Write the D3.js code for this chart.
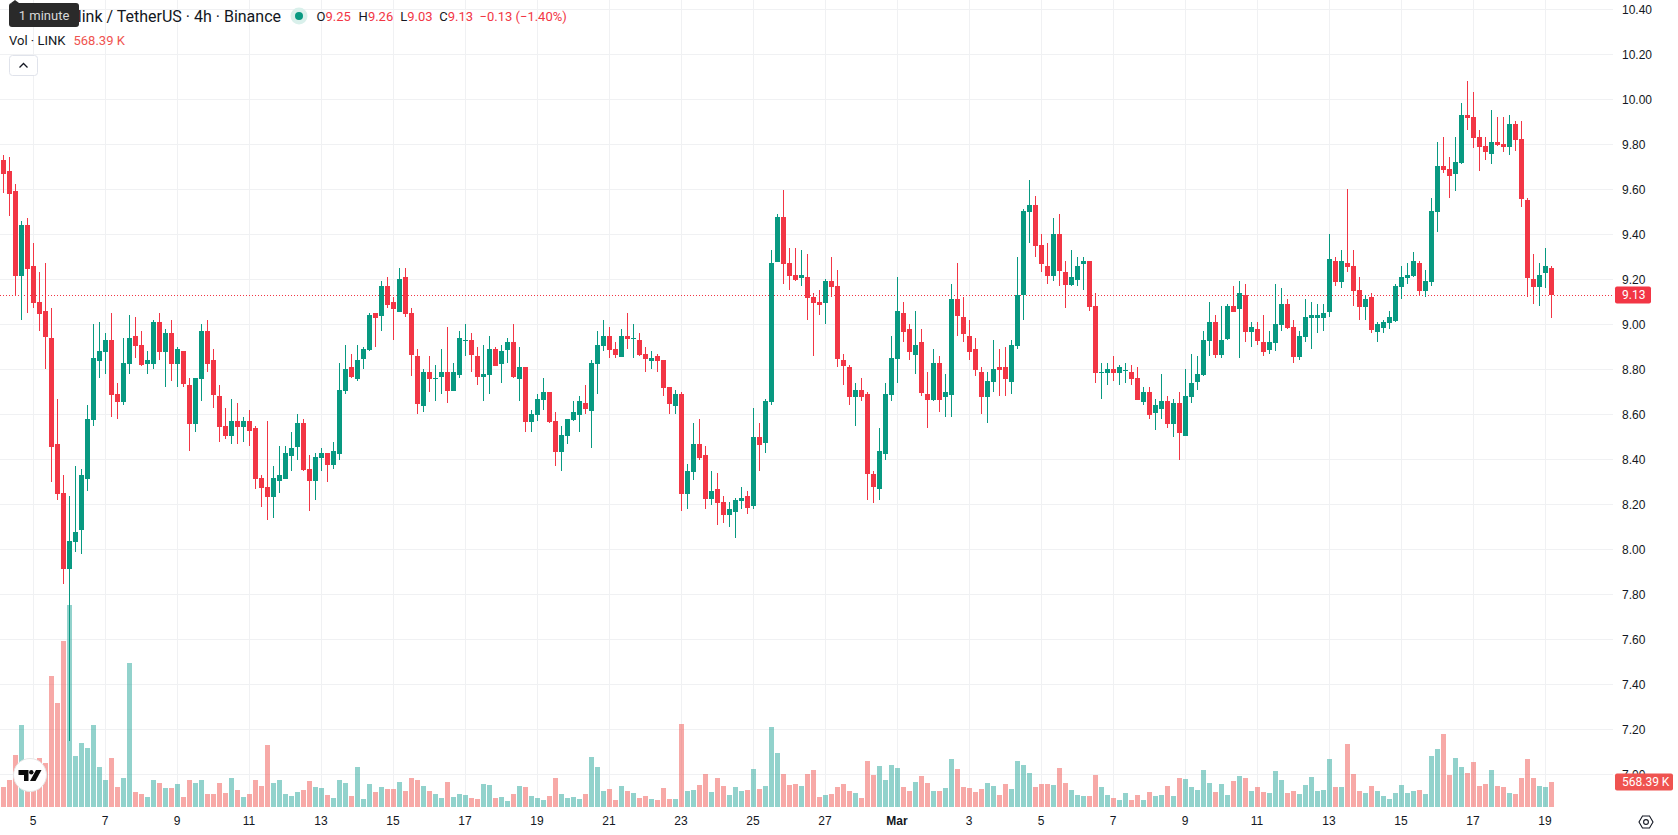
<!DOCTYPE html>
<html>
<head>
<meta charset="utf-8">
<title>LINK / USDT 4h</title>
<script src="https://cdn.jsdelivr.net/npm/d3@7/dist/d3.min.js"></script>
<style>
  html, body { margin: 0; padding: 0; background: #fff; overflow: hidden; }
  svg { display: block; font-family: Roboto, "Noto Sans", sans-serif; }
  .tick text { font-size: 12px; fill: #131722; }
</style>
</head>
<body>
<svg id="chart" width="1678" height="835"></svg>
<script>
// 4h candles, oldest first
const opens = [
  9.73,9.681,9.592,9.215,9.441,9.259,9.099,9.059,8.939,8.468,
  8.25,7.912,8.032,8.086,8.312,8.575,8.837,8.877,8.93,8.69,
  8.655,8.824,8.948,8.908,8.824,8.824,9.01,8.877,8.961,8.824,
  8.881,8.73,8.557,8.757,8.97,8.841,8.681,8.548,8.504,8.57,
  8.544,8.57,8.539,8.317,8.277,8.232,8.304,8.312,8.415,8.455,
  8.561,8.357,8.304,8.406,8.428,8.375,8.424,8.704,8.81,8.757,
  8.846,8.886,9.05,9.037,9.17,9.099,9.055,9.21,9.05,8.859,
  8.637,8.788,8.76,8.766,8.788,8.704,8.775,8.928,8.931,8.859,
  8.766,8.775,8.891,8.824,8.886,8.922,8.757,8.811,8.566,8.597,
  8.664,8.699,8.571,8.433,8.504,8.575,8.597,8.651,8.615,8.824,
  8.904,8.948,8.891,8.855,8.948,8.936,8.931,8.868,8.837,8.859,
  8.842,8.722,8.637,8.691,8.246,8.344,8.468,8.419,8.224,8.268,
  8.211,8.153,8.166,8.215,8.237,8.193,8.499,8.473,8.655,9.277,
  9.477,9.273,9.219,9.206,9.211,9.122,9.099,9.094,9.192,9.17,
  8.841,8.81,8.677,8.708,8.69,8.335,8.27,8.423,8.686,8.846,
  9.05,8.979,8.863,8.921,8.69,8.663,8.828,8.677,8.686,9.112,
  9.032,8.948,8.89,8.788,8.677,8.743,8.81,8.81,8.743,8.903,
  9.13,9.499,9.53,9.352,9.259,9.214,9.401,9.232,9.174,9.197,
  9.268,9.281,9.081,8.785,8.783,8.801,8.783,8.797,8.788,8.761,
  8.654,8.699,8.606,8.623,8.659,8.557,8.65,8.503,8.677,8.743,
  8.774,8.926,9.01,8.863,8.934,9.081,9.068,9.13,8.966,8.979,
  8.921,8.886,8.917,8.997,9.09,8.988,8.854,8.943,9.028,9.028,
  9.028,9.054,9.281,9.188,9.272,9.259,9.152,9.077,9.121,8.966,
  8.983,9.006,9.014,9.166,9.206,9.214,9.272,9.148,9.188,9.499,
  9.703,9.69,9.668,9.717,9.93,9.921,9.832,9.792,9.757,9.81,
  9.801,9.788,9.89,9.823,9.552,9.201,9.166,9.228,9.25
];
const highs = [
  9.752,9.743,9.623,9.459,9.472,9.361,9.232,9.272,9.072,8.668,
  8.33,8.237,8.37,8.357,8.641,9.001,9.01,8.961,9.05,8.739,
  8.939,9.041,9.032,8.97,8.881,9.019,9.05,8.979,9.019,8.899,
  8.881,8.761,8.761,9.001,9.019,8.89,8.73,8.628,8.668,8.65,
  8.588,8.619,8.548,8.33,8.57,8.37,8.459,8.459,8.521,8.601,
  8.579,8.419,8.428,8.45,8.428,8.477,8.828,8.908,8.868,8.908,
  8.899,9.05,9.05,9.192,9.21,9.121,9.25,9.25,9.072,8.89,
  8.802,8.859,8.819,8.891,8.988,8.828,8.971,9.002,8.962,8.899,
  8.908,8.948,8.899,8.908,8.939,9.002,8.899,8.811,8.619,8.691,
  8.762,8.699,8.611,8.548,8.579,8.659,8.682,8.731,8.842,8.971,
  9.019,8.988,8.922,8.979,9.051,9.002,8.962,8.899,8.882,8.868,
  8.842,8.722,8.708,8.699,8.379,8.562,8.579,8.459,8.348,8.339,
  8.237,8.211,8.228,8.277,8.259,8.628,8.562,8.668,9.331,9.49,
  9.595,9.339,9.339,9.331,9.313,9.139,9.153,9.201,9.299,9.241,
  8.868,8.819,8.739,8.761,8.699,8.35,8.539,8.739,8.948,9.21,
  9.099,9.001,9.059,8.979,8.788,8.89,8.859,8.779,9.179,9.272,
  9.121,9.019,8.939,8.81,8.788,8.93,8.89,8.899,8.93,9.299,
  9.512,9.641,9.57,9.401,9.361,9.472,9.49,9.281,9.33,9.299,
  9.299,9.281,9.139,8.828,8.828,8.859,8.819,8.828,8.819,8.81,
  8.721,8.721,8.668,8.779,8.681,8.668,8.699,8.801,8.868,8.859,
  8.97,9.099,9.041,9.081,9.09,9.17,9.192,9.179,9.01,9.01,
  9.041,8.97,9.179,9.161,9.112,9.019,8.97,9.112,9.099,9.09,
  9.09,9.401,9.299,9.33,9.601,9.33,9.21,9.13,9.139,9.01,
  9.019,9.059,9.179,9.259,9.272,9.321,9.281,9.241,9.561,9.81,
  9.832,9.743,9.832,9.983,10.081,10.032,9.863,9.832,9.952,9.921,
  9.921,9.93,9.903,9.903,9.561,9.312,9.272,9.339,9.26
];
const lows = [
  9.583,9.481,9.126,9.019,9.05,9.072,8.97,8.801,8.299,8.219,
  7.845,7.148,7.988,7.979,8.259,8.548,8.761,8.779,8.588,8.579,
  8.641,8.779,8.85,8.815,8.779,8.801,8.841,8.721,8.748,8.721,
  8.721,8.437,8.521,8.659,8.788,8.628,8.477,8.49,8.468,8.468,
  8.477,8.459,8.268,8.188,8.13,8.139,8.25,8.312,8.348,8.397,
  8.348,8.17,8.219,8.348,8.299,8.357,8.397,8.69,8.761,8.748,
  8.801,8.881,8.899,8.97,9.072,8.93,9.055,9.032,8.77,8.601,
  8.611,8.699,8.659,8.691,8.651,8.704,8.762,8.859,8.788,8.731,
  8.659,8.691,8.815,8.739,8.828,8.762,8.659,8.522,8.522,8.571,
  8.619,8.562,8.371,8.348,8.468,8.571,8.522,8.602,8.451,8.691,
  8.882,8.851,8.851,8.855,8.891,8.851,8.859,8.788,8.802,8.788,
  8.682,8.602,8.602,8.171,8.179,8.308,8.397,8.179,8.197,8.108,
  8.117,8.099,8.051,8.179,8.157,8.179,8.348,8.428,8.642,9.277,
  9.179,9.153,9.193,9.171,9.019,8.859,9.042,9.001,9.121,8.81,
  8.73,8.641,8.548,8.659,8.219,8.205,8.219,8.397,8.659,8.739,
  8.921,8.841,8.779,8.681,8.539,8.659,8.61,8.588,8.588,8.948,
  8.921,8.841,8.77,8.601,8.561,8.699,8.681,8.681,8.69,8.89,
  9.019,9.361,9.299,9.232,9.179,9.192,9.17,9.072,9.17,9.17,
  9.152,9.059,8.739,8.668,8.73,8.748,8.73,8.739,8.73,8.663,
  8.641,8.579,8.53,8.579,8.539,8.499,8.397,8.503,8.65,8.708,
  8.77,8.859,8.85,8.85,8.93,9.054,8.85,8.921,8.899,8.908,
  8.859,8.868,8.881,8.97,8.979,8.828,8.841,8.921,8.89,8.961,
  8.97,9.032,9.17,9.161,9.232,9.081,9.019,9.019,8.961,8.921,
  8.961,8.98,9.01,9.112,9.179,9.21,9.126,9.121,9.17,9.41,
  9.672,9.561,9.592,9.712,9.863,9.783,9.681,9.73,9.712,9.792,
  9.766,9.752,9.77,9.521,9.121,9.09,9.081,9.161,9.03
];
const closes = [
  9.668,9.579,9.215,9.441,9.246,9.095,9.046,8.943,8.455,8.246,
  7.912,8.036,8.077,8.33,8.579,8.85,8.881,8.93,8.686,8.655,
  8.828,8.939,8.904,8.819,8.841,9.01,8.877,8.961,8.824,8.89,
  8.735,8.557,8.761,8.97,8.824,8.686,8.544,8.504,8.57,8.544,
  8.57,8.526,8.312,8.272,8.232,8.317,8.33,8.428,8.45,8.561,
  8.352,8.304,8.41,8.428,8.375,8.437,8.708,8.801,8.766,8.841,
  8.89,9.041,9.028,9.17,9.086,9.068,9.201,9.046,8.863,8.646,
  8.788,8.757,8.762,8.788,8.704,8.788,8.939,8.93,8.864,8.766,
  8.779,8.891,8.815,8.882,8.922,8.766,8.811,8.566,8.602,8.668,
  8.699,8.566,8.433,8.508,8.579,8.611,8.659,8.624,8.828,8.908,
  8.948,8.886,8.864,8.948,8.935,8.939,8.864,8.846,8.851,8.837,
  8.717,8.646,8.691,8.246,8.348,8.468,8.406,8.224,8.259,8.206,
  8.153,8.179,8.219,8.228,8.184,8.499,8.464,8.659,9.273,9.477,
  9.268,9.215,9.197,9.219,9.117,9.095,9.086,9.192,9.166,8.846,
  8.814,8.677,8.708,8.677,8.335,8.275,8.437,8.69,8.85,9.059,
  8.966,8.877,8.908,8.694,8.663,8.828,8.663,8.699,9.112,9.037,
  8.957,8.877,8.797,8.677,8.748,8.801,8.797,8.757,8.908,9.13,
  9.503,9.53,9.348,9.268,9.214,9.401,9.237,9.174,9.21,9.259,
  9.281,9.077,8.783,8.788,8.801,8.783,8.81,8.799,8.757,8.663,
  8.699,8.597,8.641,8.659,8.557,8.65,8.517,8.681,8.739,8.779,
  8.93,9.01,8.863,8.93,9.081,9.054,9.139,8.966,8.988,8.926,
  8.877,8.921,9.001,9.09,8.983,8.854,8.948,9.032,9.041,9.041,
  9.05,9.29,9.188,9.281,9.254,9.148,9.077,9.112,8.974,9.001,
  9.01,9.032,9.17,9.21,9.219,9.281,9.148,9.192,9.503,9.703,
  9.686,9.659,9.721,9.93,9.917,9.828,9.788,9.766,9.81,9.797,
  9.788,9.89,9.819,9.557,9.206,9.166,9.219,9.259,9.13
];
// traded volume per candle, thousands of LINK
const volumes = [
  455,614,1182,1865,455,530,1114,1001,2979,2365,
  3775,4593,1160,1455,1342,1865,910,614,1114,455,
  659,3275,341,296,227,614,546,432,432,523,
  227,614,546,614,296,296,546,318,659,387,
  227,296,614,478,1410,546,614,296,250,341,
  387,591,455,432,273,205,614,546,250,910,
  182,523,341,455,409,409,568,364,659,614,
  478,364,296,205,568,227,296,273,205,182,
  523,500,205,227,136,296,478,455,250,205,
  159,250,659,296,205,227,182,296,1137,910,
  364,409,159,478,364,318,205,250,182,159,
  432,182,182,1887,364,387,500,750,341,659,
  478,273,455,364,387,864,409,478,1819,1228,
  750,500,523,478,750,841,227,273,296,455,
  523,364,318,205,1046,728,932,614,955,887,
  455,364,568,705,546,364,364,432,1092,864,
  455,432,341,409,546,478,273,523,409,1046,
  955,773,455,523,523,500,887,546,387,273,
  250,250,728,455,273,205,159,318,159,273,
  159,341,250,273,478,250,659,637,455,387,
  841,546,341,523,273,591,705,659,364,455,
  341,318,819,614,318,364,296,500,682,364,
  387,1092,455,455,1433,750,364,318,478,364,
  250,182,318,500,318,364,387,296,1160,1319,
  1660,728,1114,910,773,1023,478,523,841,478,
  455,318,296,659,1092,659,478,455,568.39
];

// price axis labels and date labels along the time axis
const priceTicks = ["7.00","7.20","7.40","7.60","7.80","8.00","8.20","8.40","8.60","8.80",
  "9.00","9.20","9.40","9.60","9.80","10.00","10.20","10.40"];
const dayLabels = ["5","7","9","11","13","15","17","19","21","23","25","27",
  "Mar","3","5","7","9","11","13","15","17","19"];
const firstDayCandle = 5;     // candle that opens the first labelled day
const candlesPerLabel = 12;   // two days of 4h candles

const lastPrice = 9.13;
const lastVolumeLabel = "568.39 K";

const upColor = "#089981", downColor = "#F23645";
const upVol = "rgba(38,166,154,0.5)", downVol = "rgba(239,83,80,0.5)";
const gridColor = "#f0f1f3";

const paneRight = 1613, paneBottom = 807;

const x = d3.scaleLinear().domain([0, opens.length - 1]).range([3.5, 1551.5]);
const y = d3.scaleLinear().domain([7, 10.4]).range([774.3, 9.3]);
const v = d3.scaleLinear().domain([0, d3.max(volumes)]).range([paneBottom, 605]);

const svg = d3.select("#chart");
const candles = d3.range(opens.length);
const isUp = i => closes[i] >= opens[i];

// grid
const dayIndex = dayLabels.map((_, k) => firstDayCandle + k * candlesPerLabel);
const priceValues = priceTicks.map(Number);
const grid = svg.append("g").attr("shape-rendering", "crispEdges").attr("stroke", gridColor);
grid.selectAll("line.h").data(priceValues).join("line").attr("class", "h")
  .attr("x1", 0).attr("x2", paneRight)
  .attr("y1", d => Math.floor(y(d)) + 0.5).attr("y2", d => Math.floor(y(d)) + 0.5);
grid.selectAll("line.v").data(dayIndex).join("line").attr("class", "v")
  .attr("x1", d => x(d)).attr("x2", d => x(d))
  .attr("y1", 0).attr("y2", paneBottom);

// volume histogram
svg.append("g").attr("shape-rendering", "crispEdges").selectAll("rect").data(candles).join("rect")
  .attr("x", i => x(i) - 2.5).attr("width", 5)
  .attr("y", i => Math.round(v(volumes[i])))
  .attr("height", i => paneBottom - Math.round(v(volumes[i])))
  .attr("fill", i => isUp(i) ? upVol : downVol);

// last price line
svg.append("line")
  .attr("x1", 0).attr("x2", paneRight)
  .attr("y1", Math.floor(y(lastPrice)) + 0.5).attr("y2", Math.floor(y(lastPrice)) + 0.5)
  .attr("stroke", downColor).attr("stroke-dasharray", "1 2").attr("shape-rendering", "crispEdges");

// candles
const candleG = svg.append("g").attr("shape-rendering", "crispEdges");
candleG.selectAll("rect.wick").data(candles).join("rect").attr("class", "wick")
  .attr("x", i => x(i) - 0.5).attr("width", 1)
  .attr("y", i => Math.round(y(highs[i])))
  .attr("height", i => Math.max(1, Math.round(y(lows[i])) - Math.round(y(highs[i]))))
  .attr("fill", i => isUp(i) ? upColor : downColor);
candleG.selectAll("rect.body").data(candles).join("rect").attr("class", "body")
  .attr("x", i => x(i) - 2.5).attr("width", 5)
  .attr("y", i => Math.round(y(Math.max(opens[i], closes[i]))))
  .attr("height", i => Math.max(1, Math.round(y(Math.min(opens[i], closes[i]))) - Math.round(y(Math.max(opens[i], closes[i])))))
  .attr("fill", i => isUp(i) ? upColor : downColor);

// axes
const priceAxis = d3.axisRight(y).tickValues(priceValues).tickFormat(d3.format(".2f")).tickSize(0).tickPadding(9);
svg.append("g").attr("transform", `translate(${paneRight},0)`).call(priceAxis)
  .call(g => g.select(".domain").remove());

const timeAxis = d3.axisBottom(x).tickValues(dayIndex).tickFormat((d, k) => dayLabels[k]).tickSize(0).tickPadding(9).offset(-0.5);
svg.append("g").attr("transform", `translate(0,${paneBottom})`).call(timeAxis)
  .call(g => g.select(".domain").remove())
  .call(g => g.selectAll(".tick text").style("font-weight", (d, k) => dayLabels[k] === "Mar" ? 700 : 400));

// last price and last volume badges on the price scale
function badge(cy, w, fill, label) {
  const g = svg.append("g");
  g.append("rect").attr("x", paneRight + 2).attr("y", cy - 8.5).attr("width", w).attr("height", 17).attr("rx", 2).attr("fill", fill);
  g.append("text").attr("x", paneRight + 9).attr("y", cy + 4.3).attr("fill", "#fff").attr("font-size", 12).text(label);
}
badge(y(lastPrice), 36, downColor, d3.format(".2f")(lastPrice));
badge(782, 58, "#ef5350", lastVolumeLabel);

// header
const title = svg.append("g");
title.append("text").attr("x", 281).attr("y", 21.5).attr("text-anchor", "end").attr("font-size", 16).attr("fill", "#131722")
  .text("Chainlink / TetherUS · 4h · Binance");
title.append("circle").attr("cx", 299).attr("cy", 16).attr("r", 8.5).attr("fill", "#d9f0eb");
title.append("circle").attr("cx", 299).attr("cy", 16).attr("r", 4).attr("fill", upColor);

const ohlcLegend = [
  { key: "O", val: d3.format(".2f")(opens[opens.length - 1]), at: 316.5 },
  { key: "H", val: d3.format(".2f")(highs[highs.length - 1]), at: 358.6 },
  { key: "L", val: d3.format(".2f")(lows[lows.length - 1]), at: 400.3 },
  { key: "C", val: d3.format(".2f")(closes[closes.length - 1]), at: 439.3 }
];
ohlcLegend.forEach(d => {
  const t = title.append("text").attr("x", d.at).attr("y", 20.5).attr("font-size", 13);
  t.append("tspan").attr("fill", "#131722").text(d.key);
  t.append("tspan").attr("fill", downColor).text(d.val);
});
title.append("text").attr("x", 479.5).attr("y", 20.5).attr("font-size", 13).attr("fill", downColor).text("−0.13 (−1.40%)");

title.append("text").attr("x", 9).attr("y", 45).attr("font-size", 13).attr("fill", "#131722").text("Vol · LINK");
title.append("text").attr("x", 73.5).attr("y", 45).attr("font-size", 13).attr("fill", "#ef5350").text(lastVolumeLabel);

// collapse button
title.append("rect").attr("x", 9.5).attr("y", 55.5).attr("width", 28).attr("height", 20).attr("rx", 3)
  .attr("fill", "#fff").attr("stroke", "#e0e3eb");
title.append("path").attr("d", "M19.5 67.5 L23.5 63.5 L27.5 67.5").attr("fill", "none").attr("stroke", "#131722").attr("stroke-width", 1.3);

// hover hint over the title
const hint = svg.append("g");
hint.append("path").attr("d", "M11 3 L15 0 L19 3 Z").attr("fill", "#2a2a2a");
hint.append("rect").attr("x", 9).attr("y", 3).attr("width", 70).attr("height", 24).attr("rx", 3).attr("fill", "#2a2a2a");
hint.append("text").attr("x", 44).attr("y", 19.5).attr("text-anchor", "middle").attr("font-size", 13).attr("fill", "#d8d8d8").text("1 minute");

// logo badge in the lower left corner
const logo = svg.append("g");
logo.append("circle").attr("cx", 30).attr("cy", 775).attr("r", 16.5).attr("fill", "#fff").attr("stroke", "#e6e6e6");
logo.append("path").attr("d", "M18.5 770 H28.5 V781 H24 V775 H18.5 Z").attr("fill", "#0b0b0b");
logo.append("circle").attr("cx", 31.3).attr("cy", 772.2).attr("r", 2.2).attr("fill", "#0b0b0b");
logo.append("path").attr("d", "M36 770 H41.5 L35.5 781 H30 Z").attr("fill", "#0b0b0b");

// settings icon under the price scale
const gear = svg.append("g").attr("transform", "translate(1646,822)").attr("fill", "none").attr("stroke", "#131722").attr("stroke-width", 1.1);
gear.append("path").attr("d", "M-7 0 L-3.5 -6 H3.5 L7 0 L3.5 6 H-3.5 Z");
gear.append("circle").attr("r", 2.4);
</script>
</body>
</html>
